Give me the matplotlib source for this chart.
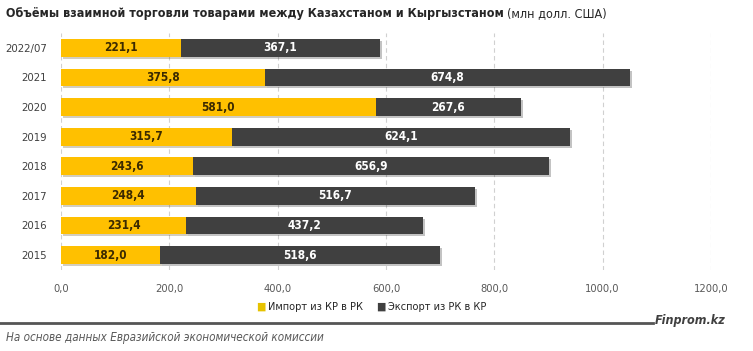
import matplotlib.pyplot as plt
import matplotlib.patheffects as pe
import numpy as np

years = ['2022/07', '2021', '2020', '2019', '2018', '2017', '2016', '2015']
imports = [221.1, 375.8, 581.0, 315.7, 243.6, 248.4, 231.4, 182.0]
exports = [367.1, 674.8, 267.6, 624.1, 656.9, 516.7, 437.2, 518.6]
xticks = [0, 200, 400, 600, 800, 1000, 1200]

yellow = '#FFC000'
dark = '#404040'
plt.rcParams['font.family'] = ['DejaVu Sans']
plt.rcParams['font.stretch'] = 'condensed'

def fmt(v):
    return f'{v:.1f}'.replace('.', ',')

fig = plt.figure(figsize=(7.53, 3.51), dpi=100)
ax = fig.add_axes([0.081, 0.231, 0.863, 0.675])

y = np.arange(len(years))
shadow = [pe.SimplePatchShadow(offset=(1.5, -1.5), alpha=0.25), pe.Normal()]
b1 = ax.barh(y, imports, height=0.6, color=yellow, zorder=3)
b2 = ax.barh(y, exports, left=imports, height=0.6, color=dark, zorder=3)
for b in list(b1) + list(b2):
    b.set_path_effects(shadow)

for i in range(len(years)):
    ax.text(imports[i] / 2, y[i], fmt(imports[i]), ha='center', va='center',
            fontsize=8.5, fontweight='bold', color='#3b2a00', zorder=4)
    ax.text(imports[i] + exports[i] / 2, y[i], fmt(exports[i]), ha='center', va='center',
            fontsize=8.5, fontweight='bold', color='white', zorder=4)

ax.set_ylim(len(years) - 0.5, -0.5)
ax.set_xlim(0, 1200)
ax.set_xticks(xticks)
ax.set_xticklabels([fmt(v) for v in xticks], fontsize=8, color='#595959')
ax.set_yticks(y)
ax.set_yticklabels(years, fontsize=8.2, color='#404040')
ax.tick_params(length=0)
ax.tick_params(axis='y', pad=10)
ax.tick_params(axis='x', pad=10)
ax.grid(axis='x', color='#d0d0d0', linestyle=(0, (4, 3)), linewidth=0.8, zorder=0)
for s in ax.spines.values():
    s.set_visible(False)

# legend
ly = 1 - 307 / 351
fig.text(256 / 753, ly, '■', color='#e6c200', fontsize=8, va='center', ha='left')
fig.text(268 / 753, ly, 'Импорт из КР в РК', color='#262626', fontsize=7.8, va='center',
         ha='left')
fig.text(376 / 753, ly, '■', color=dark, fontsize=8, va='center', ha='left')
fig.text(388 / 753, ly, 'Экспорт из РК в КР', color='#262626', fontsize=7.8, va='center',
         ha='left')

# title
t1 = fig.text(0.008, 0.962, 'Объёмы взаимной торговли товарами между Казахстаном и Кыргызстаном',
              fontsize=9, fontweight='bold', color='#262626', va='center', ha='left')
fig.canvas.draw()
bb = t1.get_window_extent().transformed(fig.transFigure.inverted())
fig.text(bb.x1 + 0.004, 0.962, '(млн долл. США)', fontsize=9, color='#262626',
         va='center', ha='left')

# footer
fy = 1 - 323 / 351
fig.add_artist(plt.Line2D([0.0, 653 / 753], [fy, fy], color='#555555', linewidth=2,
                          transform=fig.transFigure))
fig.text(726 / 753, fy + 0.006, 'Finprom.kz', fontsize=9, fontweight='bold', style='italic',
         color='#404040', ha='right', va='center')
fig.text(0.008, 1 - 338 / 351, 'На основе данных Евразийской экономической комиссии',
         fontsize=8.4, style='italic', color='#595959', ha='left', va='center')

fig.savefig('out.png', dpi=100)
